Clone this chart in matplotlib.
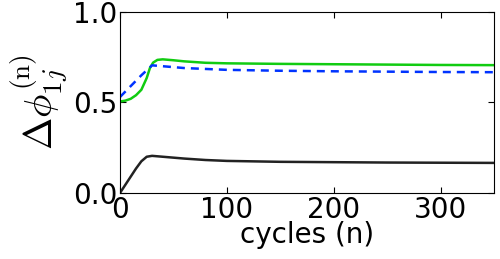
import matplotlib
matplotlib.use('Agg')
import matplotlib.pyplot as plt

plt.rcParams['mathtext.fontset'] = 'cm'
plt.rcParams['xtick.direction'] = 'in'
plt.rcParams['ytick.direction'] = 'in'
plt.rcParams['xtick.top'] = True
plt.rcParams['ytick.right'] = True

# values
x_green = [0, 5, 10, 15, 20, 25, 28, 31, 35, 40, 50, 60, 80, 100, 150, 200, 250, 300, 350]
y_green = [0.505, 0.51, 0.52, 0.54, 0.57, 0.635, 0.69, 0.72, 0.735, 0.738, 0.733, 0.727,
           0.719, 0.716, 0.713, 0.711, 0.709, 0.707, 0.706]

x_blue = [0, 10, 20, 30, 40, 60, 80, 100, 150, 200, 250, 300, 350]
y_blue = [0.53, 0.59, 0.65, 0.705, 0.70, 0.69, 0.685, 0.68, 0.675, 0.672, 0.67, 0.668, 0.667]

x_black = [0, 5, 10, 15, 20, 25, 30, 40, 60, 80, 100, 150, 200, 250, 300, 350]
y_black = [0.0, 0.045, 0.09, 0.135, 0.175, 0.2, 0.205, 0.2, 0.19, 0.182, 0.177, 0.172,
           0.17, 0.168, 0.167, 0.166]

fig = plt.figure(figsize=(5, 2.59), dpi=100)
ax = fig.add_axes([0.24, 0.255, 0.748, 0.699])

ax.plot(x_green, y_green, color='#11cc11', lw=1.8)
ax.plot(x_blue, y_blue, color='#0033ff', lw=1.8, ls='--', dashes=(3.2, 2.4))
ax.plot(x_black, y_black, color='#222222', lw=1.8)

ax.set_xlim(0, 350)
ax.set_ylim(0, 1.0)
ax.set_xticks([0, 100, 200, 300])
ax.set_yticks([0.0, 0.5, 1.0])
ax.set_yticklabels(['0.0', '0.5', '1.0'])
ax.tick_params(labelsize=20, length=4, pad=2)
ax.set_xlabel('cycles (n)', fontsize=20, labelpad=-2)
ax.set_ylabel(r'$\Delta\phi_{1j}^{(\mathrm{n})}$', fontsize=28, labelpad=2)

fig.savefig('out.png', dpi=100)
